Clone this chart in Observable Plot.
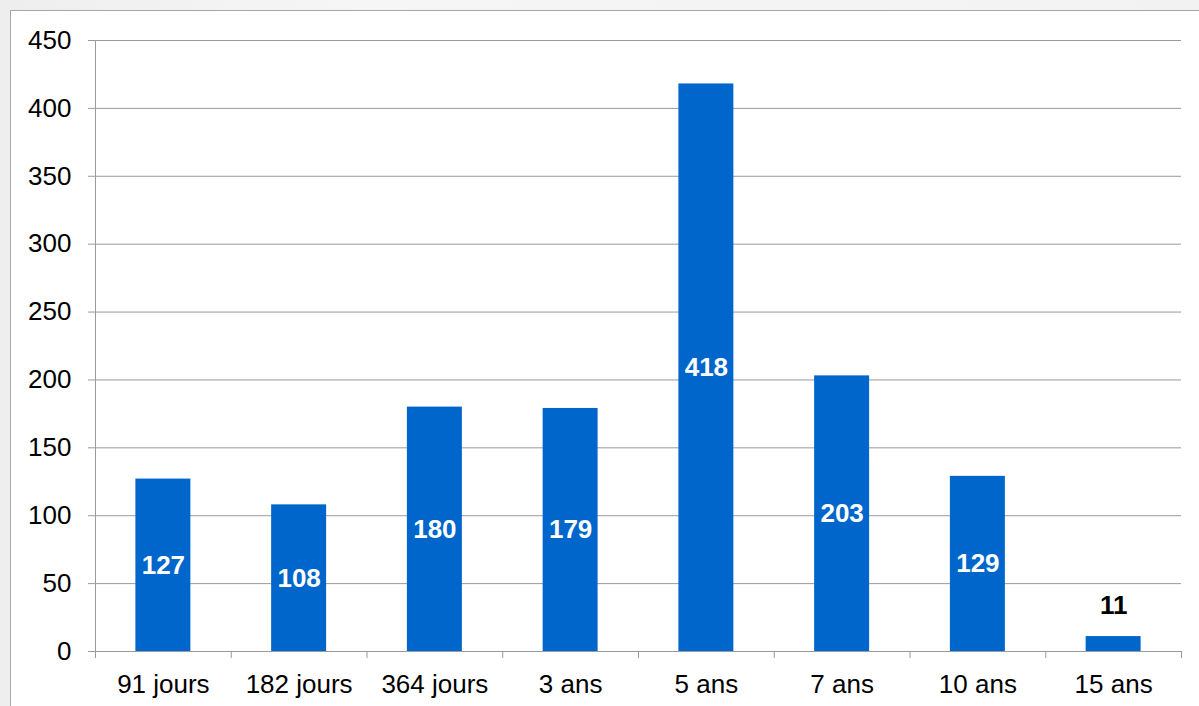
<!DOCTYPE html>
<html>
<head>
<meta charset="utf-8">
<script src="https://cdn.jsdelivr.net/npm/d3@7"></script>
<script src="https://cdn.jsdelivr.net/npm/@observablehq/plot@0.6"></script>
<style>
  html, body { margin: 0; padding: 0; }
  body { width: 1199px; height: 706px; overflow: hidden; position: relative;
         background: linear-gradient(90deg, #eeeeee 0%, #f6f6f6 30%, #f2f2f2 100%); }
  #box { position: absolute; left: 10px; top: 10px; width: 1200px; height: 710px;
         background: #fff; border: 1.5px solid #a6a6a6; box-sizing: border-box; }
  #chart { position: absolute; left: 0; top: 0; }
</style>
</head>
<body>
<div id="box"></div>
<div id="chart"></div>
<script>
const categories = ["91 jours", "182 jours", "364 jours", "3 ans", "5 ans", "7 ans", "10 ans", "15 ans"];
const values = [127, 108, 180, 179, 418, 203, 129, 11];
const yTicks = [0, 50, 100, 150, 200, 250, 300, 350, 400, 450];

const data = categories.map((c, i) => ({cat: c, value: values[i]}));
const W = 1199, H = 706, mL = 95, mR = 18, mT = 40, mB = 55;
const step = (W - mL - mR) / categories.length;
const font = "Liberation Sans, Arial, sans-serif";

const chart = Plot.plot({
  width: W, height: H,
  marginLeft: mL, marginRight: mR, marginTop: mT, marginBottom: mB,
  style: {background: "transparent", fontFamily: font, color: "#000"},
  x: {domain: categories, paddingInner: 0.595, paddingOuter: 0.2975, round: false, label: null},
  y: {domain: [0, 450], label: null},
  marks: [
    Plot.gridY(yTicks, {stroke: "#9a9a9a", strokeOpacity: 1, strokeWidth: 1}),
    Plot.axisY(yTicks, {tickSize: 7, tickPadding: 17, stroke: "#9a9a9a", fill: "#000", fontSize: 26, label: null}),
    Plot.frame({anchor: "left", stroke: "#9a9a9a"}),
    Plot.axisX({tickSize: 0, tickPadding: 23, fontSize: 26, fill: "#000", label: null}),
    Plot.axisX(categories, {tickSize: 7, dx: -step / 2, stroke: "#9a9a9a", tickFormat: () => "", label: null}),
    Plot.axisX([categories[categories.length - 1]], {tickSize: 7, dx: step / 2, stroke: "#9a9a9a", tickFormat: () => "", label: null}),
    Plot.barY(data, {x: "cat", y: "value", fill: "#0066CC"}),
    Plot.text(data.filter(d => d.value >= 40), {x: "cat", y: d => d.value / 2, text: d => String(d.value),
      fill: "#fff", fontSize: 26, fontWeight: "bold"}),
    Plot.text(data.filter(d => d.value < 40), {x: "cat", y: "value", text: d => String(d.value),
      fill: "#000", fontSize: 26, fontWeight: "bold", dy: -31})
  ]
});
document.getElementById("chart").appendChild(chart);
</script>
</body>
</html>
